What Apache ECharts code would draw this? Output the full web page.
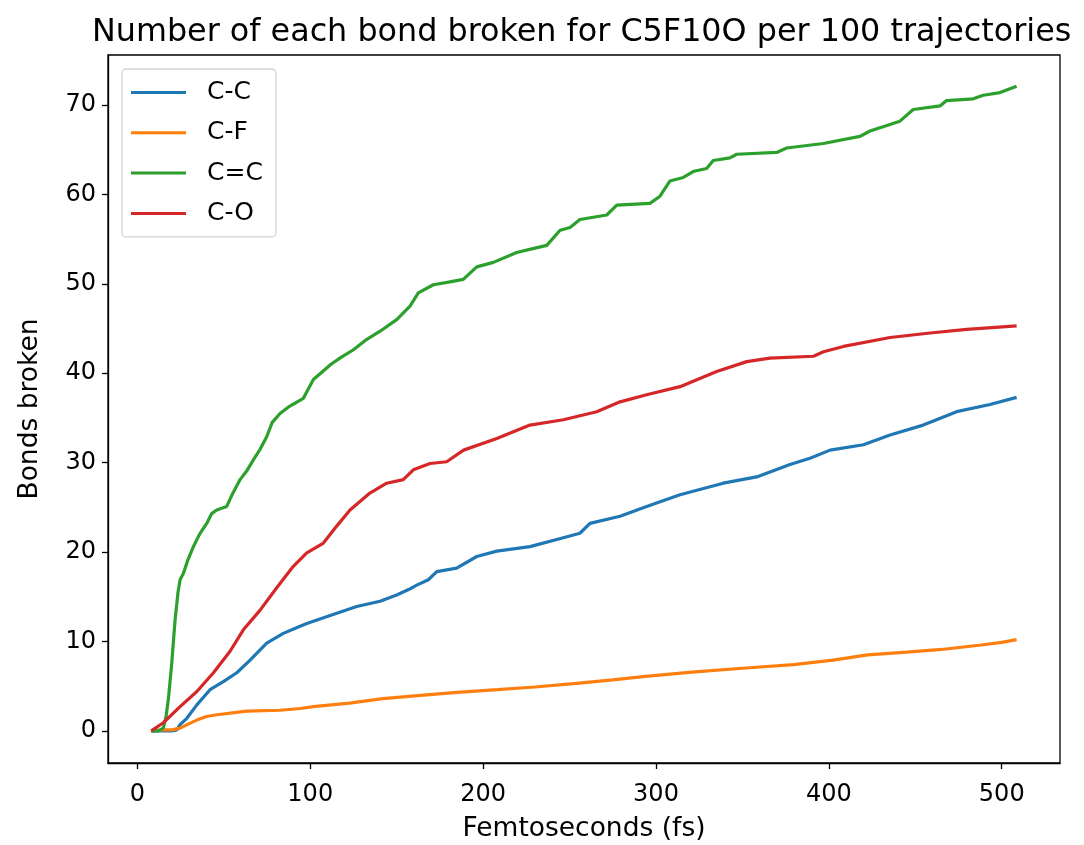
<!DOCTYPE html>
<html>
<head>
<meta charset="utf-8">
<title>Bonds broken</title>
<script src="https://cdn.jsdelivr.net/npm/echarts@6/dist/echarts.min.js"></script>
<style>
  html, body { margin: 0; padding: 0; background: #fff; }
  #chart { width: 1084px; height: 845px; }
</style>
</head>
<body>
<div id="chart"></div>
<script>
// Cumulative bond breaks per 100 trajectories, sampled over simulation time (fs)
const ccTime = [8, 15, 20, 22.8, 24.7, 28.6, 34.4, 42, 49.7, 57.5, 65.2, 74.8, 84.4, 94.1, 98, 111.5, 126.9, 140.4, 150, 156.9, 161.6, 168.3, 173.2, 184.7, 196.3, 207.9, 227.1, 246.4, 256, 261.8, 279.2, 294.6, 313.9, 338.9, 358.2, 377.5, 389.1, 400.7, 420, 435.4, 454.6, 473.9, 493.2, 508.6];
const ccBonds = [0, 0, 0, 0.1, 0.7, 1.4, 2.9, 4.6, 5.5, 6.5, 7.9, 9.8, 10.9, 11.7, 12.0, 12.9, 13.9, 14.5, 15.2, 15.8, 16.3, 16.9, 17.8, 18.2, 19.5, 20.1, 20.6, 21.6, 22.1, 23.2, 24.0, 25.1, 26.4, 27.7, 28.4, 29.8, 30.5, 31.4, 32.0, 33.1, 34.2, 35.7, 36.5, 37.3];

const cfTime = [8, 15, 20, 24.7, 30, 34.4, 40, 45.9, 63.3, 82.5, 94.1, 101.8, 122.7, 142, 165.5, 185, 208.3, 230, 254, 275, 293.9, 322.5, 350, 379.6, 402.4, 422.4, 445, 465.2, 488, 500, 508.6];
const cfBonds = [0, 0.1, 0.1, 0.3, 0.8, 1.2, 1.6, 1.8, 2.2, 2.3, 2.5, 2.7, 3.1, 3.6, 4.0, 4.3, 4.6, 4.9, 5.3, 5.7, 6.1, 6.6, 7.0, 7.4, 7.9, 8.5, 8.8, 9.1, 9.6, 9.9, 10.2];

const c2Time = [8, 12, 15, 16.5, 17.9, 19.9, 21.8, 23.5, 24.7, 26.6, 29, 32.4, 36, 40.1, 43, 45.9, 51.7, 55, 59.4, 63, 67.1, 71, 74.8, 78, 82.5, 88, 96, 101.8, 106, 112, 118, 124.8, 132, 140.4, 150, 157.7, 162.5, 171.2, 180, 188.5, 196.3, 205.9, 219.4, 230, 236.8, 244.5, 250.3, 256, 271.5, 277.3, 296.5, 302.3, 308, 315.8, 322, 329.3, 333.1, 342.8, 346.7, 369.8, 375.6, 396.8, 418, 423.8, 441.1, 448.8, 464.3, 468.1, 483.5, 489.3, 499, 508.6];
const c2Bonds = [0, 0, 0.3, 1.5, 3.5, 7.6, 12.4, 15.5, 16.9, 17.6, 19.0, 20.6, 22.0, 23.2, 24.3, 24.7, 25.1, 26.5, 28.1, 29.0, 30.3, 31.5, 32.9, 34.5, 35.5, 36.3, 37.2, 39.3, 40.0, 41.0, 41.8, 42.6, 43.7, 44.7, 46.0, 47.5, 49.0, 49.9, 50.2, 50.5, 51.9, 52.4, 53.5, 54.0, 54.3, 56.0, 56.3, 57.2, 57.7, 58.8, 59.0, 59.8, 61.5, 61.9, 62.6, 62.9, 63.8, 64.1, 64.5, 64.7, 65.2, 65.7, 66.5, 67.1, 68.2, 69.5, 69.9, 70.5, 70.7, 71.1, 71.4, 72.1];

const coTime = [8, 15, 24.7, 34.4, 44, 53.6, 61.3, 71, 80.6, 90.2, 98, 107.6, 115.3, 123, 134.5, 144.2, 153.8, 159.6, 169.3, 178.9, 188.7, 207.9, 227.1, 246.4, 265.7, 279.2, 294.6, 313.9, 335.1, 352.5, 365.9, 391.1, 396.9, 408.4, 435.4, 458.6, 479.7, 508.6];
const coBonds = [0, 0.9, 2.7, 4.4, 6.5, 8.9, 11.3, 13.5, 16.0, 18.4, 19.9, 21.0, 22.9, 24.7, 26.6, 27.7, 28.1, 29.2, 29.9, 30.1, 31.4, 32.7, 34.2, 34.8, 35.7, 36.8, 37.6, 38.5, 40.2, 41.3, 41.7, 41.9, 42.4, 43.0, 44.0, 44.5, 44.9, 45.3];

const seriesNames = ['C-C', 'C-F', 'C=C', 'C-O'];
const seriesColors = ['#1f77b4', '#ff7f0e', '#2ca02c', '#d62728'];
const xTicks = [0, 100, 200, 300, 400, 500];
const yTicks = [0, 10, 20, 30, 40, 50, 60, 70];

const titleText = 'Number of each bond broken for C5F10O per 100 trajectories';
const xName = 'Femtoseconds (fs)';
const yName = 'Bonds broken';

const FONT = 'DejaVu Sans';

function pairs(xs, ys) {
  return xs.map((x, i) => [x, ys[i]]);
}
const seriesData = [
  pairs(ccTime, ccBonds),
  pairs(cfTime, cfBonds),
  pairs(c2Time, c2Bonds),
  pairs(coTime, coBonds)
];

const chart = echarts.init(document.getElementById('chart'), null, { renderer: 'canvas' });

const axisCommon = {
  type: 'value',
  nameLocation: 'middle',
  nameTextStyle: { fontFamily: FONT, fontSize: 26.5, color: '#000' },
  axisLine: { show: true, onZero: false, lineStyle: { color: '#000', width: 1.3 } },
  axisTick: { show: true, inside: false, length: 6, lineStyle: { color: '#000', width: 1.3 } },
  axisLabel: { fontFamily: FONT, fontSize: 24, color: '#000' },
  splitLine: { show: false }
};

chart.setOption({
  animation: false,
  backgroundColor: '#ffffff',
  title: {
    text: titleText,
    left: 92,
    top: 17,
    padding: 0,
    textStyle: { fontFamily: FONT, fontSize: 31.8, fontWeight: 'normal', color: '#000' }
  },
  grid: {
    left: 108, right: 24, top: 55, bottom: 82,
    show: true, borderColor: '#000', borderWidth: 1.3,
    containLabel: false, outerBoundsMode: 'none'
  },
  legend: {
    orient: 'vertical',
    left: 122,
    top: 69,
    padding: [11, 13, 11, 9],
    icon: 'rect',
    itemWidth: 55,
    itemHeight: 3,
    itemGap: 15.3,
    backgroundColor: '#ffffff',
    borderColor: '#d3d3d3',
    borderWidth: 1.3,
    borderRadius: 4,
    data: seriesNames,
    textStyle: { fontFamily: FONT, fontSize: 25, color: '#000', padding: [0, 0, 0, 16] }
  },
  xAxis: Object.assign({}, axisCommon, {
    min: -17, max: 533.7,
    name: xName,
    nameGap: 53,
    axisTick: Object.assign({}, axisCommon.axisTick, { customValues: xTicks }),
    axisLabel: Object.assign({}, axisCommon.axisLabel, { customValues: xTicks, margin: 20 })
  }),
  yAxis: Object.assign({}, axisCommon, {
    min: -3.6, max: 75.6,
    name: yName,
    nameGap: 64,
    axisTick: Object.assign({}, axisCommon.axisTick, { customValues: yTicks }),
    axisLabel: Object.assign({}, axisCommon.axisLabel, { customValues: yTicks, margin: 12 })
  }),
  series: seriesNames.map((name, i) => ({
    name: name,
    type: 'line',
    data: seriesData[i],
    symbol: 'none',
    smooth: false,
    lineStyle: { color: seriesColors[i], width: 3.2 },
    itemStyle: { color: seriesColors[i] },
    z: 2 + i
  }))
});
</script>
</body>
</html>
